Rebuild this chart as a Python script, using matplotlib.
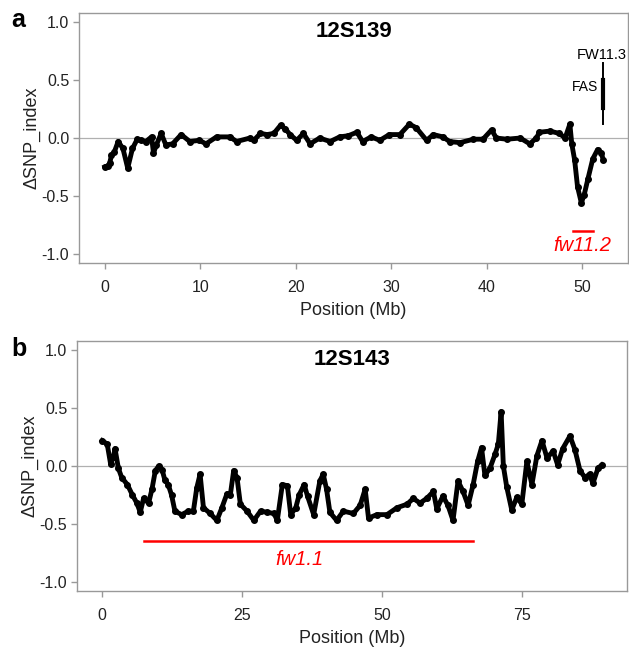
import matplotlib
matplotlib.use("Agg")
import matplotlib.pyplot as plt

plt.rcParams['font.family'] = ['Liberation Sans', 'DejaVu Sans']

# panel a: 12S139 (position in Mb, delta SNP index)
pos_a = [0.0, 0.3, 0.5, 0.7, 1.0, 1.4, 1.9, 2.4, 2.9, 3.4, 3.8, 4.3, 4.9, 5.1, 5.4,
         5.9, 6.4, 7.1, 8.0, 8.9, 9.9, 10.6, 11.7, 13.1, 13.8, 15.2, 15.6, 16.3,
         17.0, 17.7, 18.4, 18.9, 19.4, 20.1, 20.8, 21.5, 22.5, 23.6, 24.6, 25.5,
         26.4, 27.0, 27.9, 28.8, 29.8, 30.9, 31.9, 32.6, 33.7, 34.4, 35.4, 36.1,
         37.2, 38.6, 39.6, 40.5, 41.0, 42.1, 43.5, 44.5, 45.2, 45.5, 46.6, 47.6,
         48.2, 48.7, 48.9, 49.2, 49.5, 49.9, 50.2, 50.6, 51.1, 51.6, 52.0, 52.2]
snp_a = [-0.25, -0.24, -0.22, -0.15, -0.12, -0.03, -0.09, -0.26, -0.09, -0.01,
         -0.02, -0.03, 0.01, -0.13, -0.06, 0.04, -0.06, -0.05, 0.03, -0.03, -0.02,
         -0.05, 0.01, 0.01, -0.03, 0.0, -0.02, 0.04, 0.03, 0.04, 0.11, 0.08, 0.03,
         -0.02, 0.04, -0.05, 0.0, -0.03, 0.01, 0.02, 0.05, -0.03, 0.01, -0.02, 0.03,
         0.03, 0.12, 0.09, -0.02, 0.03, 0.01, -0.03, -0.04, -0.01, -0.01, 0.07,
         0.0, -0.01, 0.0, -0.05, 0.0, 0.05, 0.06, 0.04, 0.0, 0.12, -0.05, -0.19,
         -0.42, -0.56, -0.49, -0.35, -0.18, -0.10, -0.13, -0.19]

# panel b: 12S143
pos_b = [0.0, 0.9, 1.5, 2.0, 2.3, 2.9, 3.5, 4.5, 5.4, 6.2, 6.8, 7.4, 8.3, 8.9, 9.5,
         10.1, 10.7, 11.2, 11.8, 12.4, 13.0, 14.2, 15.4, 16.3, 16.9, 17.5, 18.1,
         19.3, 20.5, 21.4, 22.3, 22.9, 23.5, 24.1, 24.7, 25.9, 27.1, 28.3, 29.5,
         30.7, 31.3, 32.2, 33.1, 33.7, 34.6, 35.2, 36.1, 36.7, 37.8, 38.9, 39.5,
         40.1, 40.7, 41.9, 43.1, 44.9, 46.1, 47.0, 47.6, 49.1, 50.9, 52.7, 54.5,
         55.6, 56.8, 58.0, 59.2, 59.8, 60.9, 61.8, 62.7, 63.6, 64.5, 65.4, 66.3,
         67.1, 67.8, 68.4, 69.3, 70.2, 70.8, 71.3, 71.7, 72.3, 73.2, 74.1, 75.0,
         75.9, 76.8, 77.7, 78.6, 79.5, 80.6, 81.4, 82.3, 83.6, 84.5, 85.4, 86.3,
         87.1, 87.7, 88.6, 89.3]
snp_b = [0.22, 0.19, 0.02, 0.08, 0.15, -0.02, -0.10, -0.16, -0.25, -0.32, -0.40,
         -0.28, -0.32, -0.20, -0.04, 0.0, -0.03, -0.12, -0.16, -0.25, -0.39, -0.42,
         -0.39, -0.39, -0.19, -0.07, -0.36, -0.41, -0.47, -0.36, -0.24, -0.25,
         -0.04, -0.10, -0.33, -0.39, -0.47, -0.39, -0.40, -0.41, -0.47, -0.16,
         -0.17, -0.42, -0.36, -0.25, -0.16, -0.26, -0.42, -0.13, -0.07, -0.20,
         -0.40, -0.47, -0.39, -0.41, -0.34, -0.20, -0.45, -0.42, -0.42, -0.36,
         -0.33, -0.28, -0.32, -0.28, -0.22, -0.37, -0.26, -0.34, -0.47, -0.13,
         -0.22, -0.34, -0.16, 0.04, 0.16, -0.08, -0.02, 0.10, 0.19, 0.47, 0.0,
         -0.18, -0.38, -0.27, -0.33, 0.04, -0.16, 0.09, 0.22, 0.07, 0.13, 0.01,
         0.15, 0.26, 0.14, -0.04, -0.10, -0.07, -0.15, -0.02, 0.01]

fig = plt.figure(figsize=(6.29, 6.49), dpi=100)
ax_a = fig.add_axes([0.1256, 0.5948, 0.873, 0.385])
ax_b = fig.add_axes([0.1224, 0.0894, 0.874, 0.385])

grey = '#999999'


def style(ax, xlim, xticks, title):
    ax.plot(xlim, [0, 0], color='#b0b0b0', lw=0.9, zorder=1)
    ax.set_xlim(xlim)
    ax.set_ylim(-1.08, 1.08)
    ax.set_xticks(xticks)
    ax.set_yticks([-1.0, -0.5, 0.0, 0.5, 1.0])
    ax.set_yticklabels(['-1.0', '-0.5', '0.0', '0.5', '1.0'])
    for s in ax.spines.values():
        s.set_color(grey)
        s.set_linewidth(1.0)
    ax.tick_params(color=grey, length=4, width=1, labelsize=11.5, pad=3,
                   labelcolor='#222222')
    ax.tick_params(axis='x', pad=8)
    ax.set_xlabel('Position (Mb)', fontsize=13, labelpad=5, color='#222222')
    ax.set_ylabel('ΔSNP_index', fontsize=13, labelpad=1, color='#222222')
    ax.set_title(title, fontsize=16, fontweight='bold', y=0.87)


# panel a
style(ax_a, (-2.7, 54.8), [0, 10, 20, 30, 40, 50], '12S139')
ax_a.plot(pos_a, snp_a, color='black', lw=3.5, marker='o', ms=4,
          solid_joinstyle='round', zorder=3)
ax_a.plot([52.2, 52.2], [0.12, 0.65], color='black', lw=1.4)
ax_a.plot([52.2, 52.2], [0.26, 0.50], color='black', lw=3)
ax_a.text(52.0, 0.72, 'FW11.3', fontsize=10.5, ha='center', va='center')
ax_a.text(51.7, 0.44, 'FAS', fontsize=10, ha='right', va='center')
ax_a.plot([49.0, 51.1], [-0.80, -0.80], color='red', lw=1.8)
ax_a.text(50.0, -0.93, 'fw11.2', color='red', fontsize=14.5, style='italic',
          ha='center', va='center')
fig.text(0.018, 0.969, 'a', fontsize=18, fontweight='bold', va='center')

# panel b
style(ax_b, (-4.5, 93.75), [0, 25, 50, 75], '12S143')
ax_b.plot(pos_b, snp_b, color='black', lw=3.5, marker='o', ms=4,
          solid_joinstyle='round', zorder=3)
ax_b.plot([7.5, 66.25], [-0.65, -0.65], color='red', lw=1.8)
ax_b.text(35.2, -0.81, 'fw1.1', color='red', fontsize=14.5, style='italic',
          ha='center', va='center')
fig.text(0.018, 0.463, 'b', fontsize=18, fontweight='bold', va='center')

fig.savefig('out.png', dpi=100)
